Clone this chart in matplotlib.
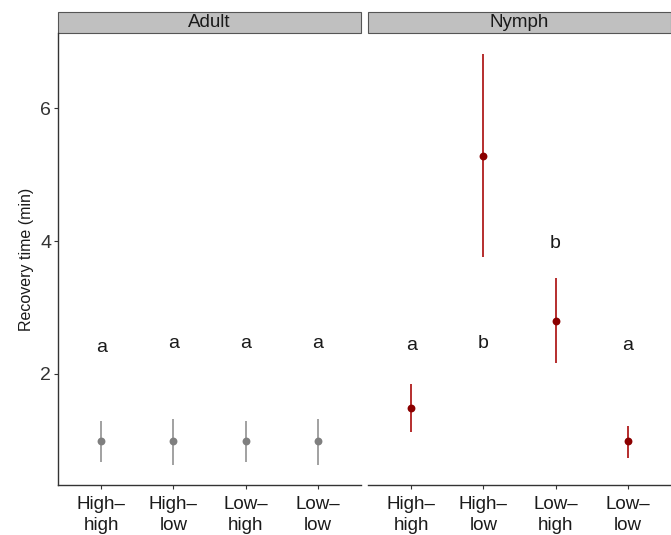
import matplotlib

matplotlib.use("Agg")
import matplotlib.pyplot as plt
from matplotlib.patches import Rectangle

plt.rcParams["font.family"] = ["Liberation Sans", "DejaVu Sans"]

CATEGORIES = ["High–\nhigh", "High–\nlow", "Low–\nhigh", "Low–\nlow"]
PANELS = ["Adult", "Nymph"]

ADULT_MEAN = [0.99, 0.99, 0.99, 0.99]
ADULT_LOW = [0.68, 0.63, 0.68, 0.63]
ADULT_HIGH = [1.29, 1.32, 1.29, 1.32]
ADULT_LETTERS = ["a", "a", "a", "a"]
ADULT_LETTER_Y = [2.40, 2.46, 2.46, 2.46]

NYMPH_MEAN = [1.49, 5.28, 2.80, 0.99]
NYMPH_LOW = [1.13, 3.76, 2.16, 0.74]
NYMPH_HIGH = [1.85, 6.81, 3.45, 1.22]
NYMPH_LETTERS = ["a", "b", "b", "a"]
NYMPH_LETTER_Y = [2.43, 2.46, 3.97, 2.43]

W, H = 671, 535
fig = plt.figure(figsize=(W / 100, H / 100), dpi=100)

panel_data = [
    (ADULT_MEAN, ADULT_LOW, ADULT_HIGH, ADULT_LETTERS, ADULT_LETTER_Y, "#7f7f7f", "#9a9a9a"),
    (NYMPH_MEAN, NYMPH_LOW, NYMPH_HIGH, NYMPH_LETTERS, NYMPH_LETTER_Y, "#8b0000", "#b01c1c"),
]
lefts = [58, 368]
ax_w = 303
ax_top, ax_bottom = 33, 485
strip_h = 21

x = list(range(1, len(CATEGORIES) + 1))
for i, (name, left) in enumerate(zip(PANELS, lefts)):
    mean, low, high, letters, letter_y, pt_col, ln_col = panel_data[i]
    ax = fig.add_axes([left / W, (H - ax_bottom) / H, ax_w / W, (ax_bottom - ax_top) / H])
    ax.vlines(x, low, high, color=ln_col, linewidth=1.3, zorder=2)
    ax.scatter(x, mean, s=32, color=pt_col, zorder=3, linewidths=0)
    for xi, lab, ly in zip(x, letters, letter_y):
        ax.text(xi, ly, lab, ha="center", va="center", fontsize=14, color="#1a1a1a")

    ax.set_xlim(0.4, 4.6)
    ax.set_ylim(0.33, 7.13)
    ax.set_xticks(x)
    ax.set_xticklabels(CATEGORIES, fontsize=13.5, color="#1a1a1a", linespacing=1.3)
    ax.set_yticks([2, 4, 6])
    ax.tick_params(axis="both", length=3, width=0.8, color="#333333")
    ax.tick_params(axis="x", pad=5)
    ax.tick_params(axis="y", pad=2)
    for side in ["top", "right"]:
        ax.spines[side].set_visible(False)
    ax.spines["bottom"].set_color("#333333")
    ax.spines["bottom"].set_linewidth(1.0)
    if i == 0:
        ax.spines["left"].set_color("#333333")
        ax.spines["left"].set_linewidth(1.0)
        ax.set_yticklabels(["2", "4", "6"], fontsize=14, color="#333333")
        ax.set_ylabel("Recovery time (min)", fontsize=11.5, color="#1a1a1a", labelpad=4)
    else:
        ax.spines["left"].set_visible(False)
        ax.tick_params(axis="y", left=False, labelleft=False)

    frac = strip_h / (ax_bottom - ax_top)
    ax.add_patch(Rectangle((0, 1), 1, frac, transform=ax.transAxes, clip_on=False,
                           facecolor="#c0c0c0", edgecolor="#555555", linewidth=0.8))
    ax.text(0.5, 1 + frac / 2, name, transform=ax.transAxes, ha="center", va="center",
            fontsize=13.5, color="#1a1a1a")

fig.savefig("out.png", dpi=100)
